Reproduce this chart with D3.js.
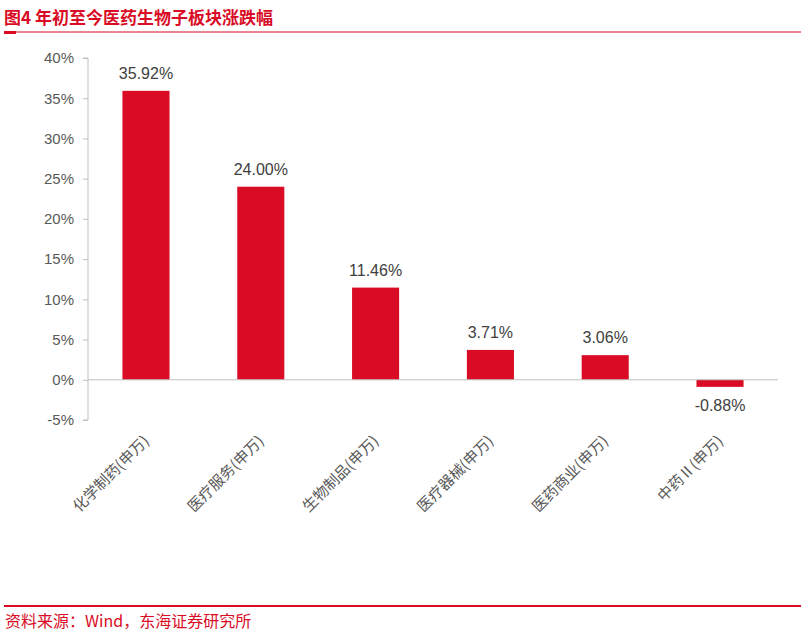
<!DOCTYPE html>
<html><head><meta charset="utf-8">
<script src="https://cdn.jsdelivr.net/npm/d3@7"></script>
<style>body{margin:0;background:#fff}svg{font-family:"Liberation Sans","Noto Sans CJK SC",sans-serif}</style>
</head><body><svg id="c" width="805" height="635"></svg>
<script>
const categories = ['化学制药(申万)', '医疗服务(申万)', '生物制品(申万)', '医疗器械(申万)', '医药商业(申万)', '中药Ⅱ(申万)'];
const values = [35.92, 24.00, 11.46, 3.71, 3.06, -0.88];
const yTicks = [-5, 0, 5, 10, 15, 20, 25, 30, 35, 40];

const svg = d3.select('#c');
const red = '#d90b25';
const cjk = '"Noto Sans CJK SC",sans-serif';

// 标题
svg.append('text').attr('x', 4).attr('y', 24).attr('fill', red)
  .attr('font-size', 17).attr('font-weight', 'bold').style('font-family', cjk)
  .text('图4  年初至今医药生物子板块涨跌幅');
svg.append('line').attr('x1', 4).attr('x2', 801).attr('y1', 32).attr('y2', 32)
  .attr('stroke', red).attr('stroke-width', 1);
svg.append('rect').attr('x', 4).attr('y', 31).attr('width', 12).attr('height', 3).attr('fill', red);

const x = d3.scaleBand().domain(categories).range([88, 778]).paddingInner(0.59).paddingOuter(0.3);
const y = d3.scaleLinear().domain([-5, 40]).range([420, 58]);

// y轴
const yAxis = svg.append('g').attr('transform', 'translate(88,0)')
  .call(d3.axisLeft(y).tickValues(yTicks).tickSize(5).tickPadding(9).tickFormat(d => d + '%'));
yAxis.select('.domain').attr('stroke', '#bfbfbf').attr('d', 'M-5,58H0V420H-5');
yAxis.selectAll('line').attr('stroke', '#bfbfbf');
yAxis.selectAll('text').attr('fill', '#595959').attr('font-size', 15);

// 柱
svg.selectAll('rect.bar').data(values).enter().append('rect').attr('class', 'bar')
  .attr('x', (d, i) => x(categories[i])).attr('width', x.bandwidth())
  .attr('y', d => y(Math.max(0, d))).attr('height', d => Math.abs(y(d) - y(0)))
  .attr('fill', red);

// 零线
svg.append('line').attr('x1', 88).attr('x2', 778).attr('y1', y(0)).attr('y2', y(0))
  .attr('stroke', '#bfbfbf');

// 数据标签
svg.selectAll('text.lab').data(values).enter().append('text').attr('class', 'lab')
  .attr('x', (d, i) => x(categories[i]) + x.bandwidth() / 2)
  .attr('y', d => d >= 0 ? y(d) - 12 : y(d) + 24)
  .attr('text-anchor', 'middle').attr('fill', '#404040').attr('font-size', 16)
  .text(d => d.toFixed(2) + '%');

// x轴标签
svg.selectAll('text.cat').data(categories).enter().append('text').attr('class', 'cat')
  .attr('transform', d => `translate(${x(d) + x.bandwidth() / 2 + 4},442) rotate(-45)`)
  .attr('text-anchor', 'end').attr('fill', '#595959').attr('font-size', 15)
  .style('font-family', cjk).text(d => d);

// 底部
svg.append('line').attr('x1', 4).attr('x2', 801).attr('y1', 606).attr('y2', 606)
  .attr('stroke', red).attr('stroke-width', 2);
svg.append('text').attr('x', 5).attr('y', 627).attr('fill', red).attr('font-size', 16)
  .style('font-family', cjk).text('资料来源：Wind，东海证券研究所');
</script></body></html>
